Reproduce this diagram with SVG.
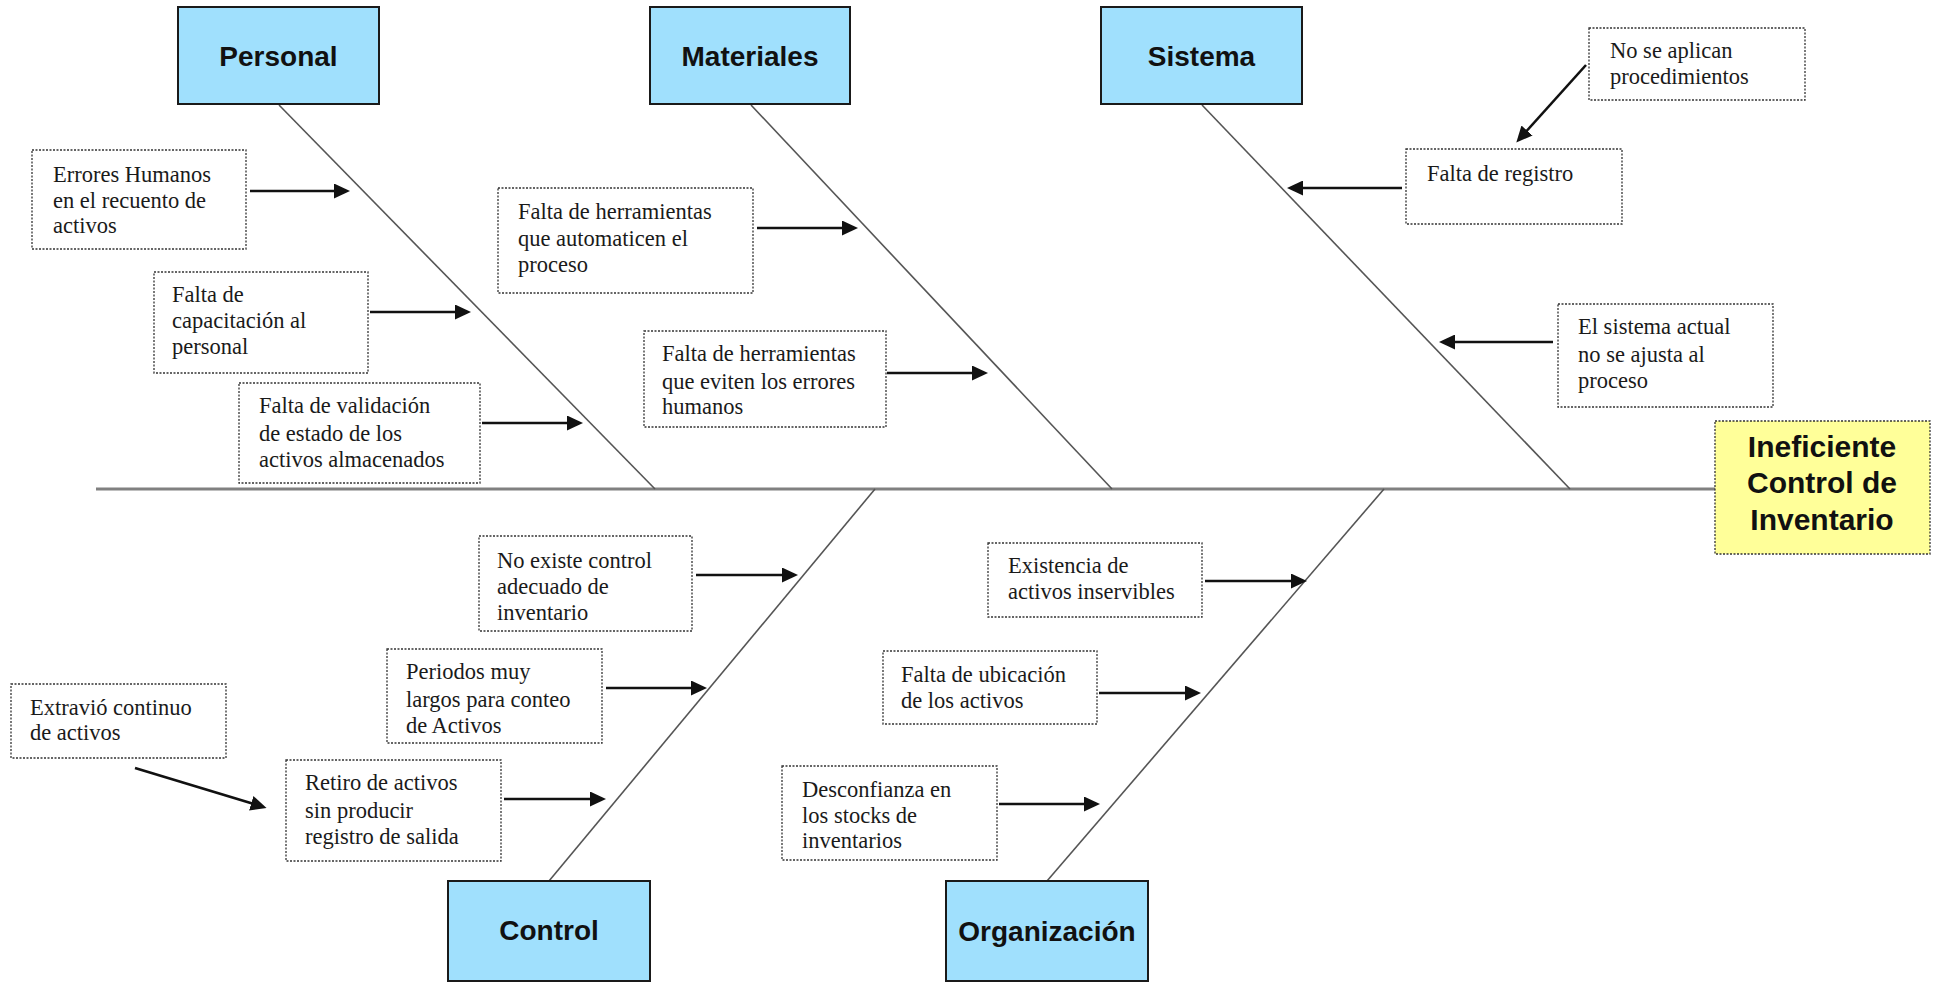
<svg xmlns="http://www.w3.org/2000/svg" width="1937" height="982" viewBox="0 0 1937 982">
<style>
.cat{fill:#a0e0fd;stroke:#1a1a1a;stroke-width:2}
.catt{font-family:"Liberation Sans",Arial,sans-serif;font-weight:bold;font-size:28px;fill:#111;text-anchor:middle}
.eff{fill:#ffff99;stroke:#333;stroke-width:1.3;stroke-dasharray:2 1.5}
.efft{font-family:"Liberation Sans",Arial,sans-serif;font-weight:bold;font-size:30px;fill:#111;text-anchor:middle}
.cause{fill:#fff;stroke:#333;stroke-width:1.3;stroke-dasharray:2 1.5}
.ct{font-family:"Liberation Serif","Times New Roman",serif;font-size:22.5px;fill:#1a1a1a}
.spine{stroke:#808080;stroke-width:3;fill:none}
.bone{stroke:#555;stroke-width:1.6;fill:none}
.arr{stroke:#111;stroke-width:2.6;fill:none;marker-end:url(#ah)}
</style>
<defs>
<marker id="ah" markerUnits="userSpaceOnUse" markerWidth="16" markerHeight="15" refX="6" refY="7.5" orient="auto">
<path d="M0,0 L16,7.5 L0,15 z" fill="#111"/>
</marker>
</defs>
<rect width="1937" height="982" fill="#fff"/>

<g id="connectors">
<line class="spine" x1="96" y1="489" x2="1715" y2="489"/>
<line class="bone" x1="279" y1="105" x2="655" y2="489"/>
<line class="bone" x1="751" y1="105" x2="1112" y2="489"/>
<line class="bone" x1="1202" y1="105" x2="1570" y2="489"/>
<line class="bone" x1="549" y1="881" x2="875" y2="489"/>
<line class="bone" x1="1047" y1="881" x2="1384" y2="489"/>
<line class="arr" x1="250" y1="191" x2="340" y2="191"/>
<line class="arr" x1="370" y1="312" x2="461" y2="312"/>
<line class="arr" x1="482" y1="423" x2="573" y2="423"/>
<line class="arr" x1="757" y1="228" x2="848" y2="228"/>
<line class="arr" x1="887" y1="373" x2="978" y2="373"/>
<line class="arr" x1="1402" y1="188" x2="1297" y2="188"/>
<line class="arr" x1="1586" y1="65" x2="1523" y2="135"/>
<line class="arr" x1="1553" y1="342" x2="1449" y2="342"/>
<line class="arr" x1="696" y1="575" x2="788" y2="575"/>
<line class="arr" x1="606" y1="688" x2="697" y2="688"/>
<line class="arr" x1="504" y1="799" x2="596" y2="799"/>
<line class="arr" x1="135" y1="768" x2="257" y2="805"/>
<line class="arr" x1="1205" y1="581" x2="1297" y2="581"/>
<line class="arr" x1="1099" y1="693" x2="1191" y2="693"/>
<line class="arr" x1="999" y1="804" x2="1090" y2="804"/>
</g>

<g id="personal"><rect class="cat" x="178" y="7" width="201" height="97"/><text class="catt" x="278.5" y="66">Personal</text></g>
<g id="materiales"><rect class="cat" x="650" y="7" width="200" height="97"/><text class="catt" x="750" y="66">Materiales</text></g>
<g id="sistema"><rect class="cat" x="1101" y="7" width="201" height="97"/><text class="catt" x="1201.5" y="66">Sistema</text></g>
<g id="control"><rect class="cat" x="448" y="881" width="202" height="100"/><text class="catt" x="549" y="940">Control</text></g>
<g id="organizacion"><rect class="cat" x="946" y="881" width="202" height="100"/><text class="catt" x="1047" y="941">Organización</text></g>

<g id="efecto"><rect class="eff" x="1715" y="421" width="215" height="133"/>
<text class="efft" x="1822" y="457">Ineficiente</text>
<text class="efft" x="1822" y="493">Control de</text>
<text class="efft" x="1822" y="530">Inventario</text></g>

<g id="c-errores"><rect class="cause" x="32" y="150" width="214" height="99"/>
<text class="ct" x="53" y="182">Errores Humanos</text><text class="ct" x="53" y="208">en el recuento de</text><text class="ct" x="53" y="233">activos</text></g>
<g id="c-capacitacion"><rect class="cause" x="154" y="272" width="214" height="101"/>
<text class="ct" x="172" y="302">Falta de</text><text class="ct" x="172" y="328">capacitación al</text><text class="ct" x="172" y="354">personal</text></g>
<g id="c-validacion"><rect class="cause" x="239" y="383" width="241" height="100"/>
<text class="ct" x="259" y="413">Falta de validación</text><text class="ct" x="259" y="441">de estado de los</text><text class="ct" x="259" y="467">activos almacenados</text></g>

<g id="c-automaticen"><rect class="cause" x="498" y="188" width="255" height="105"/>
<text class="ct" x="518" y="219">Falta de herramientas</text><text class="ct" x="518" y="246">que automaticen el</text><text class="ct" x="518" y="272">proceso</text></g>
<g id="c-eviten"><rect class="cause" x="644" y="331" width="242" height="96"/>
<text class="ct" x="662" y="361">Falta de herramientas</text><text class="ct" x="662" y="389">que eviten los errores</text><text class="ct" x="662" y="414">humanos</text></g>

<g id="c-procedimientos"><rect class="cause" x="1589" y="28" width="216" height="72"/>
<text class="ct" x="1610" y="58">No se aplican</text><text class="ct" x="1610" y="84">procedimientos</text></g>
<g id="c-registro"><rect class="cause" x="1406" y="149" width="216" height="75"/>
<text class="ct" x="1427" y="181">Falta de registro</text></g>
<g id="c-ajusta"><rect class="cause" x="1558" y="304" width="215" height="103"/>
<text class="ct" x="1578" y="334">El sistema actual</text><text class="ct" x="1578" y="362">no se ajusta al</text><text class="ct" x="1578" y="388">proceso</text></g>

<g id="c-noexiste"><rect class="cause" x="479" y="536" width="213" height="95"/>
<text class="ct" x="497" y="568">No existe control</text><text class="ct" x="497" y="594">adecuado de</text><text class="ct" x="497" y="620">inventario</text></g>
<g id="c-periodos"><rect class="cause" x="387" y="649" width="215" height="94"/>
<text class="ct" x="406" y="679">Periodos muy</text><text class="ct" x="406" y="707">largos para conteo</text><text class="ct" x="406" y="733">de Activos</text></g>
<g id="c-extravio"><rect class="cause" x="11" y="684" width="215" height="74"/>
<text class="ct" x="30" y="715">Extravió continuo</text><text class="ct" x="30" y="740">de activos</text></g>
<g id="c-retiro"><rect class="cause" x="286" y="760" width="215" height="101"/>
<text class="ct" x="305" y="790">Retiro de activos</text><text class="ct" x="305" y="818">sin producir</text><text class="ct" x="305" y="844">registro de salida</text></g>

<g id="c-inservibles"><rect class="cause" x="988" y="543" width="214" height="74"/>
<text class="ct" x="1008" y="573">Existencia de</text><text class="ct" x="1008" y="599">activos inservibles</text></g>
<g id="c-ubicacion"><rect class="cause" x="883" y="651" width="214" height="73"/>
<text class="ct" x="901" y="682">Falta de ubicación</text><text class="ct" x="901" y="708">de los activos</text></g>
<g id="c-desconfianza"><rect class="cause" x="782" y="766" width="215" height="94"/>
<text class="ct" x="802" y="797">Desconfianza en</text><text class="ct" x="802" y="823">los stocks de</text><text class="ct" x="802" y="848">inventarios</text></g>
</svg>
